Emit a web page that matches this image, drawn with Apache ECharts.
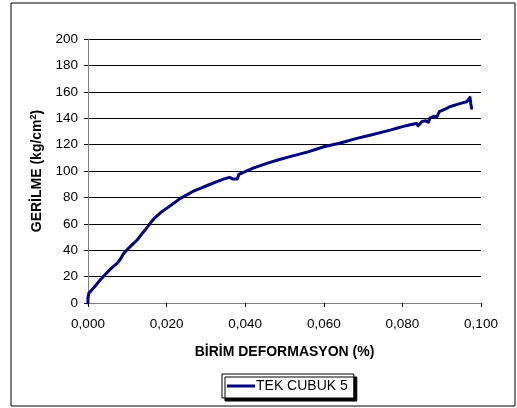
<!DOCTYPE html>
<html>
<head>
<meta charset="utf-8">
<script src="https://cdn.jsdelivr.net/npm/echarts@6/dist/echarts.min.js"></script>
<style>
  html, body { margin: 0; padding: 0; background: #fff; }
  #chart { width: 517px; height: 408px; }
</style>
</head>
<body>
<div id="chart"></div>
<script>
// Stress–strain test record for one specimen
const seriesName = 'TEK CUBUK 5';
const strain = [
  0.0000, 0.0000, 0.0002, 0.0010, 0.0020, 0.0031, 0.0042, 0.0053, 0.0064, 0.0074,
  0.0083, 0.0091, 0.0100, 0.0112, 0.0125, 0.0136, 0.0147, 0.0158, 0.0170, 0.0185,
  0.0200, 0.0218, 0.0235, 0.0255, 0.0270, 0.0286, 0.0305, 0.0328, 0.0345, 0.0360,
  0.0368, 0.0372, 0.0380, 0.0384, 0.0388, 0.0400, 0.0420, 0.0455, 0.0485, 0.0514,
  0.0560, 0.0600, 0.0640, 0.0684, 0.0720, 0.0769, 0.0790, 0.0800, 0.0820, 0.0836,
  0.0840, 0.0845, 0.0850, 0.0860, 0.0866, 0.0870, 0.0880, 0.0888, 0.0894, 0.0910,
  0.0920, 0.0940, 0.0955, 0.0964, 0.0972, 0.0974, 0.0976
];
const stress = [
  0.0, 4.0, 7.3, 10.0, 13.5, 17.4, 21.0, 24.5, 27.5, 30.0,
  33.5, 37.6, 40.5, 44.0, 47.7, 52.0, 56.0, 60.4, 64.5, 68.5,
  71.7, 75.5, 79.3, 82.5, 85.0, 86.9, 89.2, 91.9, 93.8, 95.2,
  94.0, 94.2, 94.0, 97.5, 98.0, 99.5, 102.2, 105.8, 108.5, 110.9,
  114.5, 118.4, 121.0, 124.7, 127.3, 131.0, 132.8, 133.6, 135.0, 136.0,
  134.2, 134.5, 137.5, 138.0, 137.0, 140.0, 141.5, 141.0, 145.0, 147.0,
  148.7, 150.5, 151.8, 152.5, 155.8, 151.0, 147.5
];
const yTicks = [0, 20, 40, 60, 80, 100, 120, 140, 160, 180, 200];
const xTicks = [0.000, 0.020, 0.040, 0.060, 0.080, 0.100];

const points = strain.map((x, i) => [x, stress[i]]);
const font = 'Liberation Sans, Arial, sans-serif';

const chart = echarts.init(document.getElementById('chart'), null, { renderer: 'canvas' });
chart.setOption({
  animation: false,
  backgroundColor: '#fff',
  graphic: [{
    type: 'rect',
    shape: { x: 11, y: 3, width: 504, height: 403 },
    style: { fill: 'none', stroke: '#000', lineWidth: 1 },
    z: 100
  }],
  grid: { left: 88, right: 36, top: 39, bottom: 105, containLabel: false },
  xAxis: {
    type: 'value',
    min: xTicks[0], max: xTicks[xTicks.length - 1], interval: 0.02,
    name: 'BİRİM DEFORMASYON (%)',
    nameLocation: 'middle', nameGap: 42,
    nameTextStyle: { fontFamily: font, fontWeight: 'bold', fontSize: 14, color: '#000' },
    axisLine: { onZero: false, lineStyle: { color: '#808080', width: 1 } },
    axisTick: { show: true, inside: false, length: 4, lineStyle: { color: '#000' } },
    axisLabel: {
      fontFamily: font, fontSize: 13.5, color: '#000', margin: 14,
      formatter: v => v.toFixed(3).replace('.', ',')
    },
    splitLine: { show: false }
  },
  yAxis: {
    type: 'value',
    min: yTicks[0], max: yTicks[yTicks.length - 1], interval: 20,
    name: 'GERİLME (kg/cm{sup|2})',
    nameLocation: 'middle', nameGap: 43, nameRotate: 90,
    nameTextStyle: {
      fontFamily: font, fontWeight: 'bold', fontSize: 14, color: '#000',
      rich: { sup: { fontFamily: font, fontWeight: 'bold', fontSize: 9, verticalAlign: 'top', padding: [0, 0, 7, 0] } }
    },
    axisLine: { show: true, lineStyle: { color: '#808080', width: 1 } },
    axisTick: { show: true, inside: false, length: 4, lineStyle: { color: '#000' } },
    axisLabel: { fontFamily: font, fontSize: 13.5, color: '#000', margin: 10 },
    splitLine: { show: true, lineStyle: { color: '#000', width: 1 } }
  },
  legend: {
    data: [seriesName],
    left: 222, top: 374,
    width: 134, height: 26,
    padding: [5, 6, 5, 5],
    itemWidth: 28, itemHeight: 3, itemGap: 0,
    icon: 'rect',
    backgroundColor: '#fff',
    borderColor: '#000', borderWidth: 1, borderRadius: 0,
    shadowColor: '#000', shadowBlur: 0, shadowOffsetX: 3, shadowOffsetY: 3,
    textStyle: { fontFamily: font, fontSize: 14, color: '#000', padding: [0, 0, 0, -4] }
  },
  series: [{
    name: seriesName,
    type: 'line',
    data: points,
    showSymbol: false,
    smooth: false,
    lineStyle: { color: '#000080', width: 3, join: 'round', cap: 'round' },
    itemStyle: { color: '#000080' }
  }]
});
</script>
</body>
</html>
